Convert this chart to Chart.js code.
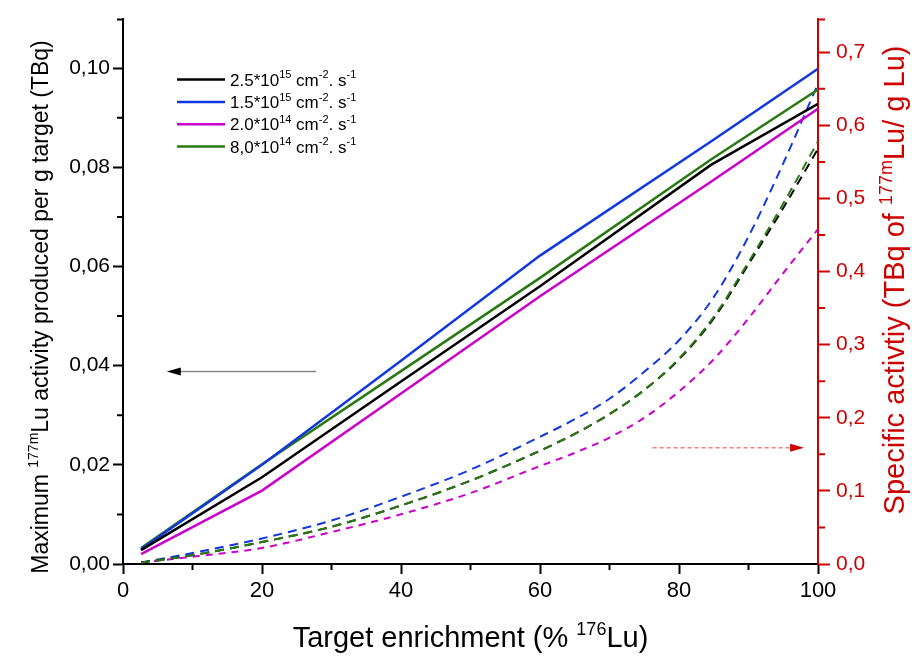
<!DOCTYPE html>
<html>
<head>
<meta charset="utf-8">
<script src="https://cdn.jsdelivr.net/npm/chart.js@4.4.1/dist/chart.umd.min.js"></script>
<style>
  html, body { margin: 0; padding: 0; background: #fff; }
  #wrap { width: 912px; height: 657px; }
</style>
</head>
<body>
<div id="wrap"><canvas id="luChart" width="912" height="657"></canvas></div>
<script>
// enrichment (% 176Lu) where the activity curves were computed
const xSolid = [2.6, 20, 40, 60, 84.6, 100];
const xSpec = [2.6, 10, 20, 30, 40, 50, 60, 65, 70, 75, 80, 85, 90, 95, 100];

// maximum 177mLu activity per g target (TBq), left axis
const act25 = [0.0028, 0.0175, 0.0368, 0.0560, 0.0805, 0.0928];
const act15 = [0.0030, 0.0200, 0.0410, 0.0622, 0.0852, 0.0999];
const act20 = [0.0020, 0.0148, 0.0344, 0.0540, 0.0771, 0.0918];
const act80 = [0.0032, 0.0201, 0.0389, 0.0577, 0.0816, 0.0957];

// specific activity (TBq of 177mLu / g Lu), right axis
const spec25 = [0.002, 0.012, 0.030, 0.051, 0.080, 0.114, 0.155, 0.178, 0.205, 0.238, 0.280, 0.336, 0.410, 0.487, 0.568];
const spec15 = [0.002, 0.015, 0.035, 0.0595, 0.092, 0.129, 0.174, 0.198, 0.226, 0.263, 0.306, 0.365, 0.448, 0.548, 0.657];
const spec20 = [0.002, 0.010, 0.022, 0.0437, 0.068, 0.097, 0.134, 0.152, 0.173, 0.200, 0.236, 0.280, 0.336, 0.398, 0.458];
const spec80 = [0.002, 0.012, 0.030, 0.051, 0.080, 0.114, 0.155, 0.178, 0.205, 0.238, 0.281, 0.338, 0.413, 0.493, 0.578];

const fluxLabels = [
    '2.5*10^{15} cm^{-2}. s^{-1}',
    '1.5*10^{15} cm^{-2}. s^{-1}',
    '2.0*10^{14} cm^{-2}. s^{-1}',
    '8,0*10^{14} cm^{-2}. s^{-1}'
];
const fluxColors = ['#000000', '#1238e0', '#cc00cc', '#2a7a12'];

const xTicks = [0, 20, 40, 60, 80, 100];
const xMinor = [10, 30, 50, 70, 90];
const leftTicks = [0, 0.02, 0.04, 0.06, 0.08, 0.10];
const leftMinor = [0.01, 0.03, 0.05, 0.07, 0.09, 0.11];
const rightTicks = [0, 0.1, 0.2, 0.3, 0.4, 0.5, 0.6, 0.7];
const rightMinor = [0.05, 0.15, 0.25, 0.35, 0.45, 0.55, 0.65];

const xTitle = 'Target enrichment (% ^{176}Lu)';
const leftTitle = 'Maximum ^{177m}Lu activity produced per g target (TBq)';
const rightTitle = 'Specific activtiy (TBq of ^{177m}Lu/ g Lu)';

const RED = '#cc0000';
const SANS = '"Liberation Sans", Arial, sans-serif';

function pts(xs, ys) {
    return xs.map((x, i) => ({ x: x, y: ys[i] }));
}

// text with ^{...} superscripts
function drawRich(ctx, text, x, y, size, family, align) {
    const parts = text.split(/\^\{([^}]*)\}/);
    const supSize = Math.round(size * 0.62);
    let total = 0;
    parts.forEach((p, i) => {
        ctx.font = (i % 2 ? supSize : size) + 'px ' + family;
        total += ctx.measureText(p).width;
    });
    let cx = align === 'center' ? x - total / 2 : x;
    ctx.textAlign = 'left';
    ctx.textBaseline = 'alphabetic';
    parts.forEach((p, i) => {
        const sup = i % 2 === 1;
        ctx.font = (sup ? supSize : size) + 'px ' + family;
        ctx.fillText(p, cx, sup ? y - size * 0.42 : y);
        cx += ctx.measureText(p).width;
    });
}

function arrow(ctx, x1, y, x2, lineColor, headColor, dash) {
    const dir = Math.sign(x2 - x1);
    ctx.save();
    ctx.strokeStyle = lineColor;
    ctx.lineWidth = 1.5;
    ctx.setLineDash(dash);
    ctx.beginPath();
    ctx.moveTo(x1, y);
    ctx.lineTo(x2 - dir * 13, y);
    ctx.stroke();
    ctx.setLineDash([]);
    ctx.fillStyle = headColor;
    ctx.beginPath();
    ctx.moveTo(x2, y);
    ctx.lineTo(x2 - dir * 14, y - 4);
    ctx.lineTo(x2 - dir * 14, y + 4);
    ctx.closePath();
    ctx.fill();
    ctx.restore();
}

const decor = {
    id: 'decor',
    afterDraw(chart) {
        const ctx = chart.ctx;
        const a = chart.chartArea;
        const sx = chart.scales.x, yl = chart.scales.yL, yr = chart.scales.yR;
        ctx.save();

        // minor ticks
        ctx.lineWidth = 2;
        ctx.strokeStyle = '#000';
        ctx.beginPath();
        xMinor.forEach(v => {
            const px = sx.getPixelForValue(v);
            ctx.moveTo(px, a.bottom); ctx.lineTo(px, a.bottom + 6);
        });
        leftMinor.forEach(v => {
            const py = Math.max(yl.getPixelForValue(v), a.top + 1);
            ctx.moveTo(a.left, py); ctx.lineTo(a.left - 6, py);
        });
        ctx.stroke();
        ctx.strokeStyle = RED;
        ctx.beginPath();
        rightMinor.forEach(v => {
            const py = yr.getPixelForValue(v);
            ctx.moveTo(a.right, py); ctx.lineTo(a.right + 7, py);
        });
        ctx.moveTo(a.right, a.top + 1); ctx.lineTo(a.right + 7, a.top + 1);
        ctx.stroke();

        // arrows pointing at the axes
        arrow(ctx, sx.getPixelForValue(27.8), yl.getPixelForValue(0.0388), sx.getPixelForValue(6.3),
              '#8a8a8a', '#000', []);
        arrow(ctx, sx.getPixelForValue(76.2), yr.getPixelForValue(0.159), sx.getPixelForValue(98),
              '#f08080', RED, [4, 3]);

        // legend
        const lx = a.left + 54, ly = a.top + 61, rowH = 22.3;
        fluxLabels.forEach((lab, i) => {
            const y = ly + i * rowH;
            ctx.strokeStyle = fluxColors[i];
            ctx.lineWidth = 2.5;
            ctx.beginPath();
            ctx.moveTo(lx, y); ctx.lineTo(lx + 48, y);
            ctx.stroke();
            ctx.fillStyle = '#000';
            drawRich(ctx, lab, lx + 53, y + 6, 17, SANS, 'left');
        });

        // axis titles
        ctx.fillStyle = '#000';
        drawRich(ctx, xTitle, (a.left + a.right) / 2, 647, 29, SANS, 'center');

        ctx.save();
        ctx.translate(48, 307);
        ctx.rotate(-Math.PI / 2);
        drawRich(ctx, leftTitle, 0, 0, 23, SANS, 'center');
        ctx.restore();

        ctx.save();
        ctx.fillStyle = RED;
        ctx.translate(904, 280);
        ctx.rotate(-Math.PI / 2);
        drawRich(ctx, rightTitle, 0, 0, 29, SANS, 'center');
        ctx.restore();

        ctx.restore();
    }
};

const solid = [act25, act15, act20, act80].map((ys, i) => ({
    label: fluxLabels[i],
    data: pts(xSolid, ys),
    yAxisID: 'yL',
    borderColor: fluxColors[i],
    borderWidth: 2.5,
    pointRadius: 0,
    tension: 0
}));

const dashed = [spec80, spec25, spec15, spec20].map((ys, i) => {
    const c = [fluxColors[3], fluxColors[0], fluxColors[1], fluxColors[2]][i];
    return {
        label: 'spec ' + i,
        data: pts(xSpec, ys),
        yAxisID: 'yR',
        borderColor: c,
        borderWidth: 2,
        borderDash: i === 3 ? [7, 6] : [9, 6],
        pointRadius: 0,
        cubicInterpolationMode: 'monotone'
    };
});

const ctx = document.getElementById('luChart').getContext('2d');
const luChart = new Chart(ctx, {
    type: 'line',
    data: { datasets: solid.concat(dashed) },
    options: {
        responsive: false,
        animation: false,
        layout: { padding: { top: 12, left: 0, right: 0, bottom: 0 } },
        plugins: { legend: { display: false }, tooltip: { enabled: false } },
        scales: {
            x: {
                type: 'linear',
                position: 'bottom',
                min: 0, max: 100,
                afterBuildTicks: s => { s.ticks = xTicks.map(v => ({ value: v })); },
                afterFit: s => { s.height = 93; },
                ticks: { color: '#000', padding: 4, font: { family: SANS, size: 22 }, maxRotation: 0 },
                grid: { drawOnChartArea: false, tickLength: 10, tickColor: '#000', tickWidth: 2 },
                border: { color: '#000', width: 2 }
            },
            yL: {
                type: 'linear',
                position: 'left',
                min: 0, max: 0.11,
                afterBuildTicks: s => { s.ticks = leftTicks.map(v => ({ value: v })); },
                afterFit: s => { s.width = 123; },
                ticks: {
                    color: '#000', padding: 3, font: { family: SANS, size: 21 },
                    callback: v => v.toFixed(2).replace('.', ',')
                },
                grid: { drawOnChartArea: false, tickLength: 10, tickColor: '#000', tickWidth: 2 },
                border: { color: '#000', width: 2 }
            },
            yR: {
                type: 'linear',
                position: 'right',
                min: 0, max: 0.746,
                afterBuildTicks: s => { s.ticks = rightTicks.map(v => ({ value: v })); },
                afterFit: s => { s.width = 94; },
                ticks: {
                    color: RED, padding: 6, font: { family: SANS, size: 21 },
                    callback: v => v.toFixed(1).replace('.', ',')
                },
                grid: { drawOnChartArea: false, tickLength: 12, tickColor: RED, tickWidth: 2 },
                border: { color: RED, width: 2 }
            }
        }
    },
    plugins: [decor]
});
</script>
</body>
</html>
